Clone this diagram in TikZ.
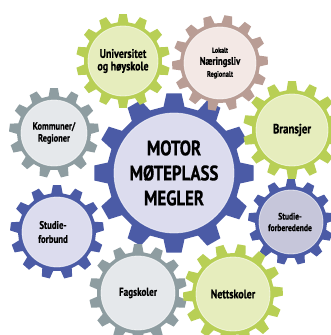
\documentclass[tikz,border=0pt]{standalone}
\usepackage{fontspec}
\setmainfont{PT Sans}[FakeStretch=0.8, BoldFeatures={FakeBold=0.6}]
\usepackage{tikz}

\definecolor{gearblue}{HTML}{4B5BA6}
\definecolor{geargreen}{HTML}{B8CF55}
\definecolor{gearmauve}{HTML}{B99D95}
\definecolor{geargray}{HTML}{8E9DA1}
\definecolor{fillblue}{HTML}{DCDCEE}
\definecolor{filldblue}{HTML}{C6C6DA}
\definecolor{fillgreen}{HTML}{E6EDBD}
\definecolor{fillmauve}{HTML}{F3E8E5}
\definecolor{fillgray}{HTML}{E5E8EB}

% #1 centre, #2 teeth, #3 rot, #4 root, #5 tip, #6 inner, #7 teeth colour, #8 face colour
\newcommand{\drawgear}[8]{%
  \fill[#7, shift={(#1)}] ({#3-0.3*360/#2}:#4)
    foreach \k in {1,...,#2} {
      -- ({#3+(\k-1-0.3)*360/#2}:#4) -- ({#3+(\k-1-0.18)*360/#2}:#5)
      -- ({#3+(\k-1+0.18)*360/#2}:#5) -- ({#3+(\k-1+0.3)*360/#2}:#4)
    } -- cycle;
  \fill[#8, draw=white, draw opacity=0.6, line width=0.8pt] (#1) circle[radius=#6];
}

\begin{document}
\begin{tikzpicture}[x=1pt, y=-1pt]
\fill[white] (0,0) rectangle (331,335);
\clip (0,0) rectangle (331,335);

\coordinate (G0) at (174, 173);
\coordinate (G1) at (123, 61);
\coordinate (G2) at (220, 63);
\coordinate (G3) at (292, 130);
\coordinate (G4) at (54, 133);
\coordinate (G5) at (57, 232);
\coordinate (G6) at (291, 222);
\coordinate (G7) at (138, 293);
\coordinate (G8) at (233, 294);

\drawgear{G0}{12}{-90}{67}{80}{60}{gearblue}{fillblue}
\drawgear{G4}{13}{-90}{37}{45}{33}{geargray}{fillgray}
\drawgear{G5}{13}{-90}{39}{47}{35}{gearblue}{fillblue}
\drawgear{G1}{14}{-90}{39}{47}{35}{geargreen}{fillgreen}
\drawgear{G2}{14}{-80}{40}{48}{36}{gearmauve}{fillmauve}
\drawgear{G3}{14}{-90}{40}{49}{36}{geargreen}{fillgreen}
\drawgear{G6}{13}{-90}{36}{43}{32}{gearblue}{filldblue}
\drawgear{G7}{14}{-90}{41}{49}{37}{geargray}{fillgray}
\drawgear{G8}{14}{-80}{41}{50}{37}{geargreen}{fillgreen}

\tikzset{LabelStyle/.style = {
 align = center,
 text = black,
 inner sep = 0pt,
 font = \bfseries\fontsize{12.5}{12.5}\selectfont} }

\node[LabelStyle, font=\bfseries\fontsize{21}{25}\selectfont] (T0) at (G0) {MOTOR\\MØTEPLASS\\MEGLER};
\node[LabelStyle] (T1) at (G1) {Universitet\\og høyskole};
\node[LabelStyle, font=\bfseries\fontsize{11}{12}\selectfont] (T2) at (G2) {{\fontsize{7.5}{9}\selectfont Lokalt}\\Næringsliv\\{\fontsize{8}{9}\selectfont Regionalt}};
\node[LabelStyle, font=\bfseries\fontsize{13.5}{14}\selectfont] (T3) at (G3) {Bransjer};
\node[LabelStyle, font=\bfseries\fontsize{10.5}{12}\selectfont] (T4) at (G4) {Kommuner/\\Regioner};
\node[LabelStyle, font=\bfseries\fontsize{11}{14}\selectfont] (T5) at ([xshift=-4]G5) {Studie-\\forbund};
\node[LabelStyle, font=\bfseries\fontsize{9.5}{11.5}\selectfont] (T6) at ([xshift=-1]G6) {Studie-\\forberedende};
\node[LabelStyle, font=\bfseries\fontsize{11.5}{12}\selectfont] (T7) at (G7) {Fagskoler};
\node[LabelStyle] (T8) at (G8) {Nettskoler};

\end{tikzpicture}
\end{document}
